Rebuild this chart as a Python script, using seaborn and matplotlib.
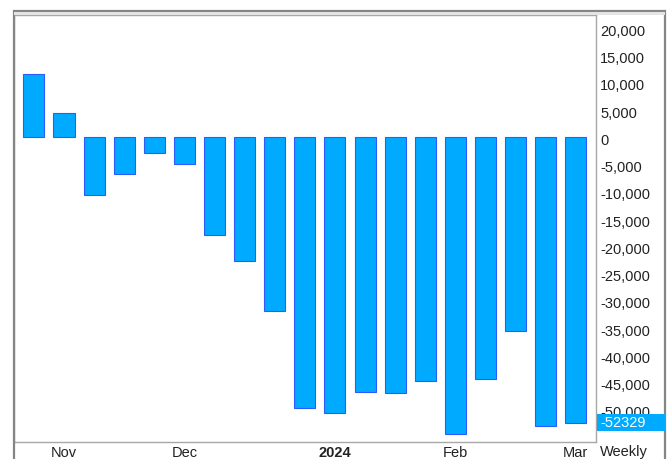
import matplotlib
matplotlib.use("Agg")
import matplotlib.pyplot as plt
from matplotlib.patches import Rectangle
from matplotlib.ticker import FuncFormatter
from matplotlib.transforms import blended_transform_factory, ScaledTranslation
import seaborn as sns
import pandas as pd

weeks = ["2023-10-31", "2023-11-07", "2023-11-14", "2023-11-21", "2023-11-28",
         "2023-12-05", "2023-12-12", "2023-12-19", "2023-12-26", "2024-01-02",
         "2024-01-09", "2024-01-16", "2024-01-23", "2024-01-30", "2024-02-06",
         "2024-02-13", "2024-02-20", "2024-02-27", "2024-03-05"]
values = [11600, 4500, -10500, -6700, -2900, -4900, -17900, -22600, -31900,
          -49600, -50500, -46700, -47000, -44700, -54400, -44300, -35500,
          -52900, -52329]
tick_weeks = ["2023-11-07", "2023-12-05", "2024-01-09", "2024-02-06", "2024-03-05"]
tick_labels = ["Nov", "Dec", "2024", "Feb", "Mar"]
last_label = "-52329"

sns.set_theme(style="white")
plt.rcParams['font.family'] = ['Liberation Sans', 'DejaVu Sans']

df = pd.DataFrame({"week": weeks, "value": values})

W, H = 671, 459
FS = 10.5
fig = plt.figure(figsize=(W / 100, H / 100), dpi=100)
ax = fig.add_axes([14 / W, (H - 442) / H, (596 - 14) / W, (442 - 15) / H])

sns.barplot(data=df, x="week", y="value", ax=ax, color="#00AAFF",
            saturation=1, width=0.7, edgecolor="#2a5cff", linewidth=0.8)

ax.set_xlim(-0.66, 18.67)
ax.set_ylim(-55900, 22450)
ax.set_xlabel("")
ax.set_ylabel("")

ax.yaxis.tick_right()
ax.set_yticks(range(-50000, 20001, 5000))
ax.yaxis.set_major_formatter(FuncFormatter(lambda v, p: f"{int(v):,}"))
ax.tick_params(axis="y", length=0, pad=3, labelsize=FS, colors="#222222")
shift = ScaledTranslation(0, -2 / 100, fig.dpi_scale_trans)
for lbl in ax.get_yticklabels():
    lbl.set_transform(lbl.get_transform() + shift)

pos = [weeks.index(w) for w in tick_weeks]
ax.set_xticks(pos)
ax.set_xticklabels(tick_labels)
ax.tick_params(axis="x", length=0, pad=3, labelsize=FS, colors="#222222")
for lbl in ax.get_xticklabels():
    if lbl.get_text() == "2024":
        lbl.set_fontweight("bold")

for s in ax.spines.values():
    s.set_color("#a8a8a8")
    s.set_linewidth(1)

# Frequency label
fig.text(624 / W, 1 - 452 / H, "Weekly", ha="center", va="center",
         fontsize=FS, color="#222222")

# last-value box spanning to the frame
bt = blended_transform_factory(fig.transFigure, ax.transData)
box_h = 3150
fig.patches.append(Rectangle((597 / W, values[-1] - box_h / 2), (665 - 597) / W, box_h,
                             transform=bt, facecolor="#00AAFF", edgecolor="none",
                             zorder=5))
fig.text(600 / W, values[-1], last_label, transform=bt, ha="left", va="center",
         fontsize=FS, color="white", zorder=6)

# outer frame
fig.patches.append(Rectangle((14 / W, -0.05), (665 - 14) / W, 1.05 - 11 / H,
                             transform=fig.transFigure, fill=False,
                             edgecolor="#858585", linewidth=1.6, zorder=0))
fig.patches.append(Rectangle((14 / W, 1 - 15 / H), (665 - 14) / W, 3 / H,
                             transform=fig.transFigure, facecolor="#e4e4e4",
                             edgecolor="none", zorder=0))

fig.savefig("out.png", dpi=100)
